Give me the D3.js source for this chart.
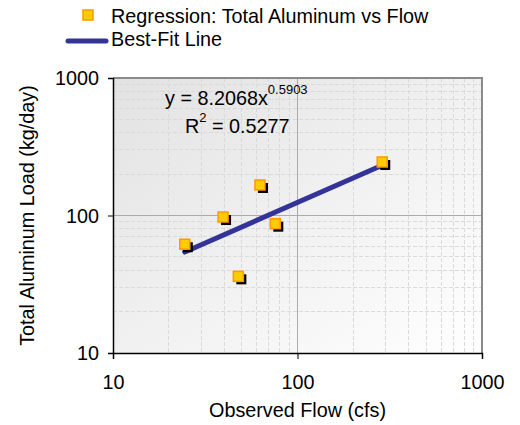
<!DOCTYPE html>
<html><head><meta charset="utf-8">
<script src="https://cdn.jsdelivr.net/npm/d3@7"></script>
<style>body{margin:0;background:#fff}svg{display:block;font-family:"Liberation Sans",Arial,sans-serif}</style>
</head><body>
<svg id="c" width="520" height="425"></svg>
<script>
const flow = [24.5, 39.5, 62.6, 75.8, 47.8, 288];
const load = [61.8, 97.5, 166.7, 87.2, 36.1, 245];
const xTicks = [10, 100, 1000];
const yTicks = [10, 100, 1000];
const coefA = 8.2068, expB = 0.5903, r2 = "0.5277";
const seriesNames = ["Regression: Total Aluminum vs Flow", "Best-Fit Line"];

const svg = d3.select("#c");
const L = 113, R = 482, T = 78, B = 353;
const FS = "19.8px";
const x = d3.scaleLog().domain([10, 1000]).range([L, R]);
const y = d3.scaleLog().domain([10, 1000]).range([B, T]);

const defs = svg.append("defs");
const g = defs.append("linearGradient").attr("id", "bg").attr("x1", "0").attr("y1", "0").attr("x2", "1").attr("y2", "1");
g.append("stop").attr("offset", "0").attr("stop-color", "#e2e2e2");
g.append("stop").attr("offset", "1").attr("stop-color", "#ffffff");
svg.append("rect").attr("x", L).attr("y", T).attr("width", R - L).attr("height", B - T).attr("fill", "url(#bg)");

// minor gridlines
const minor = [];
for (let d = 10; d < 1000; d *= 10) for (let k = 2; k <= 9; k++) minor.push(d * k);
svg.append("g").selectAll("line").data(minor).join("line")
  .attr("x1", d => x(d)).attr("x2", d => x(d)).attr("y1", T).attr("y2", B)
  .attr("stroke", "#dadada").attr("stroke-width", 1).attr("stroke-dasharray", "4,2").attr("shape-rendering", "crispEdges");
svg.append("g").selectAll("line").data(minor).join("line")
  .attr("y1", d => y(d)).attr("y2", d => y(d)).attr("x1", L).attr("x2", R)
  .attr("stroke", "#dadada").attr("stroke-width", 1).attr("stroke-dasharray", "4,2").attr("shape-rendering", "crispEdges");
// major gridlines
svg.append("line").attr("x1", x(100)).attr("x2", x(100)).attr("y1", T).attr("y2", B).attr("stroke", "#ababab").attr("shape-rendering", "crispEdges");
svg.append("line").attr("y1", y(100)).attr("y2", y(100)).attr("x1", L).attr("x2", R).attr("stroke", "#ababab").attr("shape-rendering", "crispEdges");

// border top/right
svg.append("path").attr("d", `M${L},${T}H${R}V${B}`).attr("fill", "none").attr("stroke", "#8a8a8a").attr("stroke-width", 2);

// axes
const fmt = d => String(d);
const xa = svg.append("g").attr("transform", `translate(0,${B})`)
  .call(d3.axisBottom(x).tickValues(xTicks).tickFormat(fmt).tickSize(6).tickPadding(16));
const ya = svg.append("g").attr("transform", `translate(${L},0)`)
  .call(d3.axisLeft(y).tickValues(yTicks).tickFormat(fmt).tickSize(5).tickPadding(9));
[xa, ya].forEach(a => {
  a.select(".domain").attr("stroke", "#000").attr("stroke-width", 1.5);
  a.selectAll(".tick line").attr("stroke", "#000");
  a.selectAll("text").attr("font-size", FS).attr("fill", "#000").attr("font-family", '"Liberation Sans",Arial,sans-serif');
});
ya.selectAll("text").attr("dy", "0.34em");

// best fit line
const xmin = d3.min(flow), xmax = d3.max(flow);
const fitPts = [xmin, xmax].map(v => [v, coefA * Math.pow(v, expB)]);
svg.append("path").attr("d", d3.line().x(d => x(d[0])).y(d => y(d[1]))(fitPts))
  .attr("stroke", "#333399").attr("stroke-width", 5).attr("stroke-linecap", "round").attr("fill", "none");

// points
const pts = flow.map((f, i) => [f, load[i]]);
const s = 10;
svg.append("g").selectAll("rect").data(pts).join("rect")
  .attr("x", d => x(d[0]) - s / 2 + 3).attr("y", d => y(d[1]) - s / 2 + 3).attr("width", s).attr("height", s).attr("fill", "#000");
svg.append("g").selectAll("rect").data(pts).join("rect")
  .attr("x", d => x(d[0]) - s / 2).attr("y", d => y(d[1]) - s / 2).attr("width", s).attr("height", s)
  .attr("fill", "#ffcc00").attr("stroke", "#ff9900").attr("stroke-width", 1.5);

// equation
const eq = svg.append("text").attr("x", 165).attr("y", 105).attr("font-size", FS).attr("fill", "#000");
eq.append("tspan").text(`y = ${coefA}x`);
eq.append("tspan").attr("font-size", "13px").attr("dy", -11).text(expB);
const rt = svg.append("text").attr("x", 185).attr("y", 133).attr("font-size", FS).attr("fill", "#000");
rt.append("tspan").text("R");
rt.append("tspan").attr("font-size", "13px").attr("dy", -11).text("2");
rt.append("tspan").attr("dy", 11).text(` = ${r2}`);

// axis titles
svg.append("text").attr("x", (L + R) / 2).attr("y", 417).attr("text-anchor", "middle").attr("font-size", FS).text("Observed Flow (cfs)");
svg.append("text").attr("transform", `translate(34,${(T + B) / 2}) rotate(-90)`).attr("text-anchor", "middle").attr("font-size", FS).text("Total Aluminum Load (kg/day)");

// legend
svg.append("rect").attr("x", 83).attr("y", 10).attr("width", 10).attr("height", 10).attr("fill", "#ffcc00").attr("stroke", "#ff9900").attr("stroke-width", 1.5);
svg.append("text").attr("x", 111).attr("y", 23).attr("font-size", FS).text(seriesNames[0]);
svg.append("line").attr("x1", 68).attr("x2", 106).attr("y1", 41).attr("y2", 41).attr("stroke", "#333399").attr("stroke-width", 5).attr("stroke-linecap", "round");
svg.append("text").attr("x", 111).attr("y", 46).attr("font-size", FS).text(seriesNames[1]);
</script>
</body></html>
